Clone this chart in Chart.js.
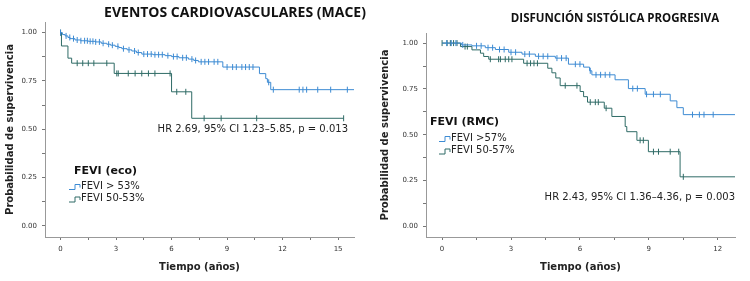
<!DOCTYPE html>
<html>
<head>
<meta charset="utf-8">
<script src="https://cdn.jsdelivr.net/npm/chart.js@4/dist/chart.umd.min.js"></script>
<style>
  html, body { margin: 0; padding: 0; background: #fff; }
  #wrap { position: relative; width: 750px; height: 281px; }
  .box { position: absolute; top: 0; width: 375px; height: 281px; }
</style>
</head>
<body>
<div id="wrap">
  <div class="box" style="left:0"><canvas id="mace"></canvas></div>
  <div class="box" style="left:375px"><canvas id="dsp"></canvas></div>
</div>
<script>
// --- MACE (FEVI eco) ---
const maceGroups = ['FEVI > 53%', 'FEVI 50-53%'];
const maceHighT = [0, 0.1, 0.25, 0.4, 0.51, 0.78, 1.1, 1.5, 1.9, 2.2, 2.5, 2.7, 2.95, 3.15, 3.31, 3.6, 3.85, 4.1, 4.39, 5.0, 5.65, 6.0, 6.4, 6.91, 7.2, 7.45, 8.77, 10.75, 11.09, 11.18, 11.36, 15.86];
const maceHighS = [1, 0.99, 0.983, 0.975, 0.969, 0.962, 0.958, 0.955, 0.952, 0.945, 0.94, 0.935, 0.929, 0.923, 0.917, 0.911, 0.905, 0.897, 0.889, 0.886, 0.881, 0.876, 0.87, 0.863, 0.856, 0.849, 0.822, 0.788, 0.762, 0.743, 0.705, 0.705];
const maceHighCens = [0, 0.3, 0.5, 0.7, 0.9, 1.1, 1.3, 1.45, 1.6, 1.75, 1.9, 2.1, 2.3, 2.6, 2.8, 3.1, 3.4, 3.7, 4.0, 4.2, 4.5, 4.7, 4.9, 5.1, 5.3, 5.5, 5.8, 6.1, 6.3, 6.6, 6.8, 7.1, 7.3, 7.6, 7.8, 8.0, 8.3, 8.5, 9.0, 9.3, 9.5, 9.8, 10.0, 10.2, 10.4, 11.25, 11.5, 12.9, 13.1, 13.3, 13.9, 14.6, 15.5];
const maceLowT = [0, 0.05, 0.4, 0.6, 2.9, 6.0, 7.09, 15.3];
const maceLowS = [1, 0.931, 0.868, 0.842, 0.789, 0.694, 0.557, 0.557];
const maceLowCens = [0, 0.9, 1.2, 1.5, 1.8, 2.5, 3.04, 3.12, 3.66, 4.03, 4.39, 4.75, 5.1, 5.92, 6.28, 6.77, 7.76, 8.68, 10.6, 15.3];
const maceXTicks = [0, 1.5, 3, 4.5, 6, 7.5, 9, 10.5, 12, 13.5, 15];

// --- Disfunción sistólica (FEVI RMC) ---
const dspGroups = ['FEVI >57%', 'FEVI 50-57%'];
const dspHighT = [0, 0.84, 1.3, 1.88, 2.32, 2.9, 3.48, 4.06, 4.93, 5.5, 6.16, 6.42, 6.52, 7.53, 8.11, 8.84, 9.93, 10.22, 10.5, 12.75];
const dspHighS = [1, 0.99, 0.985, 0.975, 0.965, 0.95, 0.94, 0.928, 0.918, 0.885, 0.869, 0.849, 0.827, 0.8, 0.752, 0.721, 0.685, 0.648, 0.61, 0.61];
const dspHighCens = [0.2, 0.4, 0.6, 0.9, 1.5, 1.7, 2.0, 2.2, 2.5, 2.7, 3.0, 3.2, 3.6, 3.8, 4.2, 4.4, 4.6, 5.0, 5.2, 5.4, 5.8, 6.0, 6.45, 6.7, 6.9, 7.1, 7.3, 8.3, 8.5, 8.9, 9.2, 9.5, 10.9, 11.2, 11.4, 11.8];
const dspLowT = [0, 0.8, 1.3, 1.67, 1.81, 2.03, 3.55, 4.6, 4.78, 4.95, 5.14, 6.01, 6.16, 6.33, 7.06, 7.39, 7.97, 8.04, 8.48, 8.98, 10.36, 12.75];
const dspLowS = [1, 0.981, 0.963, 0.945, 0.927, 0.912, 0.89, 0.863, 0.838, 0.81, 0.768, 0.736, 0.708, 0.678, 0.645, 0.6, 0.545, 0.517, 0.47, 0.408, 0.271, 0.271];
const dspLowCens = [0, 0.22, 0.36, 0.5, 0.65, 1.0, 1.1, 2.1, 2.46, 2.54, 2.75, 2.9, 3.04, 3.7, 3.85, 4.0, 4.15, 5.36, 5.87, 6.45, 6.67, 6.8, 7.14, 8.62, 8.76, 9.2, 9.42, 9.93, 10.3, 10.5];
const dspXTicks = [0, 1.5, 3, 4.5, 6, 7.5, 9, 10.5, 12];

const yTicks = [0, 0.125, 0.25, 0.375, 0.5, 0.625, 0.75, 0.875, 1];

const BLUE = '#3d8bd3';
const TEAL = '#2f6b66';
const FONT = "'DejaVu Sans', Verdana, sans-serif";

function survAt(ts, ss, t) {
  let s = ss[0];
  for (let i = 0; i < ts.length; i++) if (ts[i] <= t) s = ss[i];
  return s;
}

// stepped 'before' = horizontal first, then drop (Kaplan-Meier style)
function curve(label, ts, ss, color) {
  return {
    label, data: ts.map((t, i) => ({ x: t, y: ss[i] })),
    stepped: 'before', borderColor: color, borderWidth: 1, pointRadius: 0, fill: false,
  };
}

function censors(ts, ss, cens, color) {
  return {
    type: 'scatter', data: cens.map(t => ({ x: t, y: survAt(ts, ss, t) })),
    pointStyle: 'line', rotation: 90, pointRadius: 3, pointHoverRadius: 3,
    borderColor: color, borderWidth: 1, showLine: false,
  };
}

const overlay = {
  id: 'overlay',
  afterDraw(chart, args, o) {
    const c = chart.ctx;
    c.save();
    c.fillStyle = '#111';
    c.textBaseline = 'middle';
    c.textAlign = 'center';
    c.font = o.titleFont;
    c.fillText(o.title, o.titleX, o.titleY);

    c.textAlign = 'left';
    c.font = 'bold 11px ' + FONT;
    c.fillText(o.legendTitle, o.legX, o.legY);
    c.font = '10px ' + FONT;
    o.items.forEach((txt, i) => {
      const y = o.itemY[i];
      const x0 = o.iconX;
      c.strokeStyle = [BLUE, TEAL][i];
      c.lineWidth = 1;
      c.beginPath();
      c.moveTo(x0, y + 3.5); c.lineTo(x0 + 6, y + 3.5);
      c.lineTo(x0 + 6, y - 1.5); c.lineTo(x0 + 11, y - 1.5);
      c.lineTo(x0 + 11, y + 1.5);
      c.stroke();
      c.fillStyle = '#222';
      c.fillText(txt, x0 + 12, y);
    });

    c.textAlign = 'right';
    c.font = '10px ' + FONT;
    c.fillStyle = '#222';
    c.fillText(o.note, o.noteX, o.noteY);
    c.restore();
  }
};

function makeChart(id, cfg) {
  return new Chart(document.getElementById(id), {
    type: 'line',
    data: {
      datasets: [
        curve(cfg.groups[0], cfg.highT, cfg.highS, BLUE),
        censors(cfg.highT, cfg.highS, cfg.highCens, BLUE),
        curve(cfg.groups[1], cfg.lowT, cfg.lowS, TEAL),
        censors(cfg.lowT, cfg.lowS, cfg.lowCens, TEAL),
      ],
    },
    options: {
      responsive: true,
      maintainAspectRatio: false,
      animation: false,
      layout: { padding: { top: cfg.padTop, right: cfg.padRight, left: 0, bottom: 0 } },
      plugins: {
        legend: { display: false },
        tooltip: { enabled: false },
        overlay: cfg.overlay,
      },
      scales: {
        x: {
          type: 'linear', min: cfg.xMin, max: cfg.xMax,
          afterBuildTicks: s => { s.ticks = cfg.xTicks.map(v => ({ value: v })); },
          afterFit: s => { s.height = 44; },
          ticks: {
            autoSkip: false, maxRotation: 0, padding: 5, color: '#333',
            font: { size: 7, family: FONT },
            callback: v => (v % 3 === 0 ? String(v) : ''),
          },
          grid: { drawOnChartArea: false, drawTicks: true, tickLength: 3, color: '#777' },
          border: { color: '#999' },
          title: {
            display: true, text: 'Tiempo (años)', color: '#222',
            font: { size: 10, weight: 'bold', family: FONT }, padding: { top: 2, bottom: 8 },
          },
        },
        y: {
          min: -0.057, max: 1.055,
          afterBuildTicks: s => { s.ticks = yTicks.map(v => ({ value: v })); },
          afterFit: s => { s.width = cfg.yWidth; },
          ticks: {
            autoSkip: false, padding: 5, color: '#333',
            font: { size: 7, family: FONT },
            callback: v => (v % 0.25 === 0 ? v.toFixed(2) : ''),
          },
          grid: { drawOnChartArea: false, drawTicks: true, tickLength: 3, color: '#777' },
          border: { color: '#999' },
          title: {
            display: true, text: 'Probabilidad de supervivencia', color: '#222',
            font: { size: 10, weight: 'bold', family: FONT }, padding: { top: 4, bottom: 0 },
          },
        },
      },
    },
    plugins: [overlay],
  });
}

makeChart('mace', {
  groups: maceGroups,
  highT: maceHighT, highS: maceHighS, highCens: maceHighCens,
  lowT: maceLowT, lowS: maceLowS, lowCens: maceLowCens,
  xTicks: maceXTicks, xMin: -0.84, xMax: 15.86,
  padTop: 22, padRight: 21, yWidth: 45,
  overlay: {
    title: 'EVENTOS CARDIOVASCULARES (MACE)', titleFont: "bold 14px 'Open Sans', sans-serif",
    titleX: 235, titleY: 13,
    legendTitle: 'FEVI (eco)', legX: 74, legY: 171,
    items: maceGroups, itemY: [186, 198.5], iconX: 69,
    note: 'HR 2.69, 95% CI 1.23–5.85, p = 0.013', noteX: 348, noteY: 129,
  },
});

makeChart('dsp', {
  groups: dspGroups,
  highT: dspHighT, highS: dspHighS, highCens: dspHighCens,
  lowT: dspLowT, lowS: dspLowS, lowCens: dspLowCens,
  xTicks: dspXTicks, xMin: -0.70, xMax: 12.75,
  padTop: 33, padRight: 15, yWidth: 51,
  overlay: {
    title: 'DISFUNCIÓN SISTÓLICA PROGRESIVA', titleFont: "bold 11.5px 'Open Sans', sans-serif",
    titleX: 240, titleY: 19,
    legendTitle: 'FEVI (RMC)', legX: 55, legY: 122,
    items: dspGroups, itemY: [138, 150.5], iconX: 64,
    note: 'HR 2.43, 95% CI 1.36–4.36, p = 0.003', noteX: 360, noteY: 197.5,
  },
});
</script>
</body>
</html>
